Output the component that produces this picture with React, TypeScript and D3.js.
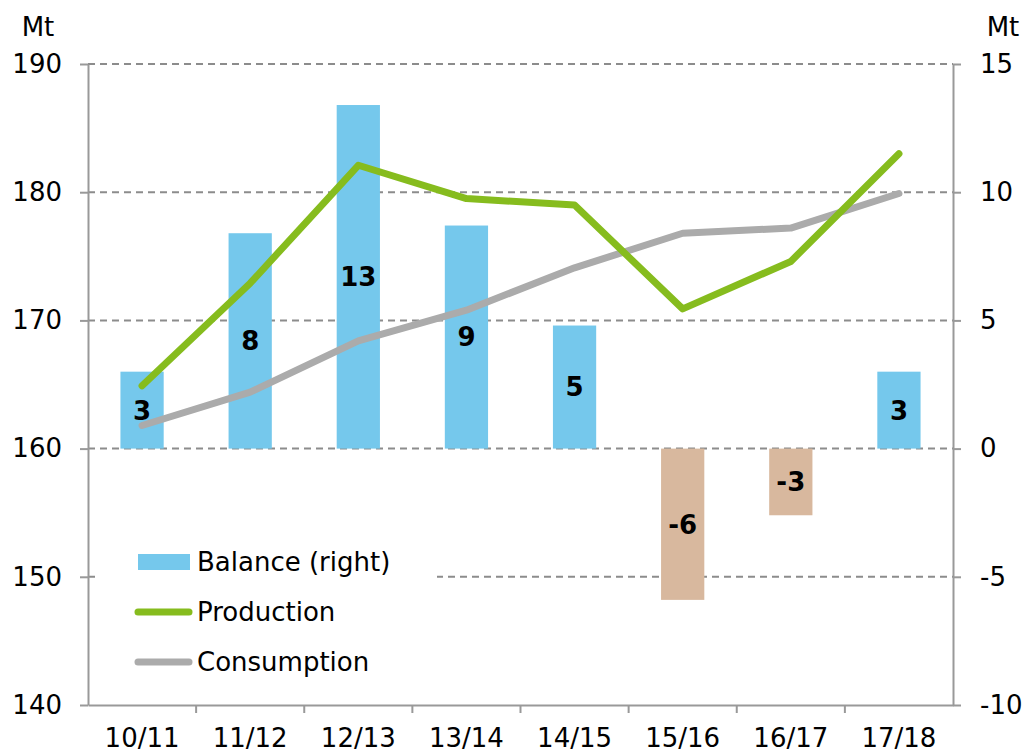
import React, { useEffect, useRef } from "react";
import { select, scaleBand, scaleLinear, axisLeft, axisRight, axisBottom, line } from "d3";

// seasons
const seasons = ["10/11", "11/12", "12/13", "13/14", "14/15", "15/16", "16/17", "17/18"];
// Mt, right axis
const balance = [3.0, 8.4, 13.4, 8.7, 4.8, -5.9, -2.6, 3.0];
const balanceLabels = ["3", "8", "13", "9", "5", "-6", "-3", "3"];
// Mt, left axis
const production = [164.9, 172.9, 182.1, 179.5, 179.0, 170.9, 174.6, 183.0];
const consumption = [161.8, 164.4, 168.4, 170.8, 174.1, 176.8, 177.2, 179.9];

const leftTicks = [140, 150, 160, 170, 180, 190];
const rightTicks = [-10, -5, 0, 5, 10, 15];

const W = 1025;
const H = 753;
const FONT = "Verdana, 'DejaVu Sans', sans-serif";
const FS = 26;

export default function App() {
  const svgRef = useRef<SVGSVGElement>(null);

  const x0 = 88, x1 = 953, y0 = 64, y1 = 705;

  const xScale = scaleBand().domain(seasons).range([x0, x1]).paddingInner(0.6).paddingOuter(0.3);
  const xBand = scaleBand().domain(seasons).range([x0, x1]);
  const yLeft = scaleLinear().domain([140, 190]).range([y1, y0]);
  const yRight = scaleLinear().domain([-10, 15]).range([y1, y0]);

  const cx = (s: string) => (xBand(s) as number) + xBand.bandwidth() / 2;
  const lineGen = line<number>().x((_, i) => cx(seasons[i])).y(d => yLeft(d));

  useEffect(() => {
    const svg = select(svgRef.current);
    const style = (g: any) => {
      g.selectAll("path").attr("stroke", "#999").attr("stroke-width", 2);
      g.selectAll("line").attr("stroke", "#999").attr("stroke-width", 2);
      g.selectAll("text").attr("font-family", FONT).attr("font-size", FS).attr("fill", "#000");
    };
    svg.select<SVGGElement>(".y-left")
      .attr("transform", `translate(${x0},0)`)
      .call(axisLeft(yLeft).tickValues(leftTicks).tickSize(8).tickSizeOuter(0).tickPadding(18))
      .call(style);
    svg.select<SVGGElement>(".y-right")
      .attr("transform", `translate(${x1},0)`)
      .call(axisRight(yRight).tickValues(rightTicks).tickFormat(d => String(d)).tickSize(8).tickSizeOuter(0).tickPadding(19))
      .call(style);
    const xAxis = svg.select<SVGGElement>(".x-axis")
      .attr("transform", `translate(0,${y1})`)
      .call(axisBottom(xBand).tickSize(0).tickSizeOuter(0).tickPadding(24))
      .call(style);
    xAxis.selectAll(".sep").data(seasons.slice(1)).join("line")
      .attr("class", "sep")
      .attr("x1", d => xBand(d) as number).attr("x2", d => xBand(d) as number)
      .attr("y1", 0).attr("y2", 8)
      .attr("stroke", "#999").attr("stroke-width", 2);
  }, []);

  return (
    <svg ref={svgRef} width={W} height={H} style={{ position: "absolute", left: 0, top: 0 }}>
      <rect width={W} height={H} fill="#fff" />
      {leftTicks.slice(1).map(t => (
        <line key={t} x1={x0} x2={x1} y1={yLeft(t)} y2={yLeft(t)}
          stroke="#8c8c8c" strokeWidth={2} strokeDasharray="7,5" />
      ))}
      {balance.map((v, i) => (
        <rect key={seasons[i]} x={xScale(seasons[i])} width={xScale.bandwidth()}
          y={yRight(Math.max(0, v))} height={Math.abs(yRight(v) - yRight(0))}
          fill={v >= 0 ? "#75c8ec" : "#d8b89e"} />
      ))}
      <path d={lineGen(consumption) || ""} fill="none" stroke="#ababab" strokeWidth={7} strokeLinecap="round" strokeLinejoin="round" />
      <path d={lineGen(production) || ""} fill="none" stroke="#86bc1e" strokeWidth={7} strokeLinecap="round" strokeLinejoin="round" />
      {balance.map((v, i) => (
        <text key={"l" + i} x={cx(seasons[i])} y={(yRight(v) + yRight(0)) / 2} dy="0.36em"
          textAnchor="middle" fontFamily={FONT} fontWeight="bold" fontSize={FS}>{balanceLabels[i]}</text>
      ))}
      <g className="y-left" />
      <g className="y-right" />
      <g className="x-axis" />
      <g fontFamily={FONT} fontSize={FS}>
        <rect x={100} y={535} width={337} height={150} fill="#fff" />
        <rect x={138} y={554} width={52} height={16} fill="#75c8ec" />
        <text x={197} y={562} dy="0.36em">Balance (right)</text>
        <line x1={138} x2={189} y1={612} y2={612} stroke="#86bc1e" strokeWidth={7} strokeLinecap="round" />
        <text x={197} y={612} dy="0.36em">Production</text>
        <line x1={138} x2={189} y1={662} y2={662} stroke="#ababab" strokeWidth={7} strokeLinecap="round" />
        <text x={197} y={662} dy="0.36em">Consumption</text>
        <text x={38} y={27} dy="0.36em" textAnchor="middle">Mt</text>
        <text x={1003} y={27} dy="0.36em" textAnchor="middle">Mt</text>
      </g>
    </svg>
  );
}
